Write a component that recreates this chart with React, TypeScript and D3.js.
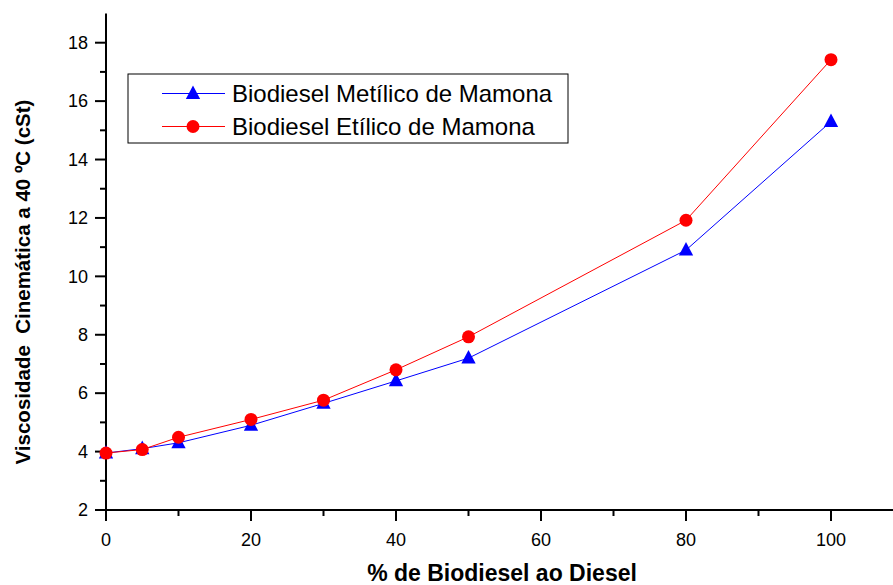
import React from "react";
import * as d3 from "d3";

const percent = [0, 5, 10, 20, 30, 40, 50, 80, 100];
const metilico = [3.95, 4.1, 4.3, 4.9, 5.65, 6.42, 7.2, 10.9, 15.3];
const etilico = [3.95, 4.07, 4.49, 5.1, 5.76, 6.8, 7.93, 11.92, 17.42];
const seriesNames = ["Biodiesel Metílico de Mamona", "Biodiesel Etílico de Mamona"];
const xTicks = [0, 20, 40, 60, 80, 100];
const xMinor = [10, 30, 50, 70, 90, 110];
const yTicks = [2, 4, 6, 8, 10, 12, 14, 16, 18];
const yMinor = [3, 5, 7, 9, 11, 13, 15, 17];
const xTitle = "% de Biodiesel ao Diesel";
const yTitle = "Viscosidade  Cinemática a 40 ºC (cSt)";

const W = 893;
const H = 585;
const FONT = "'Liberation Sans', Arial, sans-serif";

export default function App() {
  const x = d3.scaleLinear().domain([0, 100]).range([106, 831]);
  const y = d3.scaleLinear().domain([2, 18]).range([510, 42.7]);
  const yTop = y(19);
  const line = d3
    .line<number>()
    .x((_, i) => x(percent[i]))
    .y((d) => y(d));

  const tri = (cx: number, cy: number, s: number) =>
    `M${cx},${cy - s * 0.62} L${cx + s * 0.55},${cy + s * 0.42} L${cx - s * 0.55},${cy + s * 0.42} Z`;

  return (
    <div style={{ position: "absolute", left: 0, top: 0 }}>
      <svg width={W} height={H} style={{ display: "block", background: "#fff" }} fontFamily={FONT}>
        <rect x={0} y={0} width={W} height={H} fill="#fff" />
        {/* axes */}
        <line x1={106} x2={106} y1={yTop} y2={y(2)} stroke="#000" strokeWidth={2} />
        <line x1={106} x2={W} y1={y(2)} y2={y(2)} stroke="#000" strokeWidth={2} />
        {yTicks.map((t) => (
          <g key={"yt" + t}>
            <line x1={95} x2={106} y1={y(t)} y2={y(t)} stroke="#000" strokeWidth={2} />
            <text x={88} y={y(t)} dy="0.35em" textAnchor="end" fontSize={18}>
              {t}
            </text>
          </g>
        ))}
        {yMinor.map((t) => (
          <line key={"ym" + t} x1={100} x2={106} y1={y(t)} y2={y(t)} stroke="#000" strokeWidth={2} />
        ))}
        {xTicks.map((t) => (
          <g key={"xt" + t}>
            <line x1={x(t)} x2={x(t)} y1={y(2)} y2={y(2) + 11} stroke="#000" strokeWidth={2} />
            <text x={x(t)} y={545.5} textAnchor="middle" fontSize={18}>
              {t}
            </text>
          </g>
        ))}
        {xMinor.map((t) => (
          <line key={"xm" + t} x1={x(t)} x2={x(t)} y1={y(2)} y2={y(2) + 6} stroke="#000" strokeWidth={2} />
        ))}
        {/* titles */}
        <text x={502} y={581} textAnchor="middle" fontSize={23} fontWeight="bold">
          {xTitle}
        </text>
        <text
          transform={`translate(30,282) rotate(-90)`}
          textAnchor="middle"
          fontSize={20.5}
          fontWeight="bold"
          style={{ whiteSpace: "pre" }}
        >
          {yTitle}
        </text>
        {/* series */}
        <path d={line(metilico) || ""} fill="none" stroke="#0000ff" strokeWidth={1} />
        <path d={line(etilico) || ""} fill="none" stroke="#ff0000" strokeWidth={1} />
        {metilico.map((v, i) => (
          <path key={"m" + i} d={tri(x(percent[i]), y(v), 13)} fill="#0000ff" />
        ))}
        {etilico.map((v, i) => (
          <circle key={"e" + i} cx={x(percent[i])} cy={y(v)} r={6.5} fill="#ff0000" />
        ))}
        {/* legend */}
        <rect x={128} y={74} width={440} height={69} fill="#fff" stroke="#000" strokeWidth={1} />
        <line x1={162} x2={225} y1={93.5} y2={93.5} stroke="#0000ff" strokeWidth={1} />
        <path d={tri(193, 93.5, 13)} fill="#0000ff" />
        <text x={232} y={93.5} dy="0.36em" fontSize={24}>
          {seriesNames[0]}
        </text>
        <line x1={162} x2={225} y1={126.5} y2={126.5} stroke="#ff0000" strokeWidth={1} />
        <circle cx={193} cy={126.5} r={6.5} fill="#ff0000" />
        <text x={232} y={126.5} dy="0.36em" fontSize={24}>
          {seriesNames[1]}
        </text>
      </svg>
    </div>
  );
}
